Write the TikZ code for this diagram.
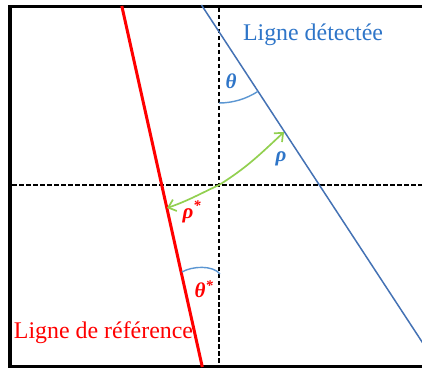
\documentclass[tikz,border=0pt]{standalone}
\usepackage{fontspec}
\setmainfont{Liberation Serif}
\usetikzlibrary{arrows.meta}
\definecolor{blueline}{RGB}{68,114,180}
\definecolor{bluetext}{RGB}{46,117,200}
\definecolor{arcblue}{RGB}{91,150,210}
\definecolor{greenarr}{RGB}{146,208,80}
\definecolor{redline}{RGB}{255,0,0}
\tikzset{
  frame/.style={line width=3.5pt, black},
  axis/.style={line width=1.2pt, black, dash pattern=on 4.5pt off 2.5pt},
  detline/.style={line width=1.5pt, blueline},
  refline/.style={line width=3pt, redline},
  anglearc/.style={line width=1.4pt, arcblue},
  distarrow/.style={line width=1.7pt, greenarr, {Straight Barb[length=7pt,width=12pt]}-{Straight Barb[length=7pt,width=12pt]}},
  bigtext/.style={font=\fontsize{23.9}{28}\selectfont, inner sep=0pt},
  greek/.style={font=\fontsize{21}{24}\selectfont\bfseries\itshape, inner sep=0pt}
}
\begin{document}
\begin{tikzpicture}[x=1pt,y=1pt]
\useasboundingbox (0,0) rectangle (422,369);
\clip (0,0) rectangle (422,369);
% frame
\draw[frame] (426,362.5) -- (10,362.5) -- (10,2.5) -- (426,2.5);
% axes
\coordinate (O) at (219,184);
\coordinate (vtop) at (219,361);
\coordinate (vbot) at (219,4);
\coordinate (hl) at (12,184);
\coordinate (hr) at (424,184);
\draw[axis] (vtop) -- (vbot);
\draw[axis] (hl) -- (hr);
% detected line
\coordinate (dtop) at (201.5,364);
\coordinate (dbot) at (424,24.1);
\draw[detline] (dtop) -- (dbot);
% reference line
\coordinate (rtop) at (121.8,363);
\coordinate (rbot) at (202.3,2);
\draw[refline] (rtop) -- (rbot);
% theta arc
\coordinate (C1) at (219,337);
\draw[anglearc] (219,266) arc[start angle=-90, end angle=-56.7, radius=71];
% theta* arc
\coordinate (a1) at (182,97);
\coordinate (a2) at (220,95);
\draw[anglearc] (a1) .. controls (192,103) and (213,104) .. (a2);
% distances
\coordinate (R) at (167,161);
\coordinate (B) at (284,237);
\draw[distarrow] (R) to[out=19,in=205] (O) to[out=32,in=223] (B);
% labels
\node[bigtext, text=bluetext] (ld) at (313,334) {Ligne détectée};
\node[bigtext, text=redline] (lr) at (103.5,36) {Ligne de référence};
\node[greek, text=bluetext] (th) at (231,288) {θ};
\node[greek, text=bluetext] (rh) at (281,210) {ρ};
\node[greek, text=redline] (rhs) at (192,157) {ρ\textsuperscript{*}};
\node[greek, text=redline] (ths) at (204,80) {θ\textsuperscript{*}};
\end{tikzpicture}
\end{document}
